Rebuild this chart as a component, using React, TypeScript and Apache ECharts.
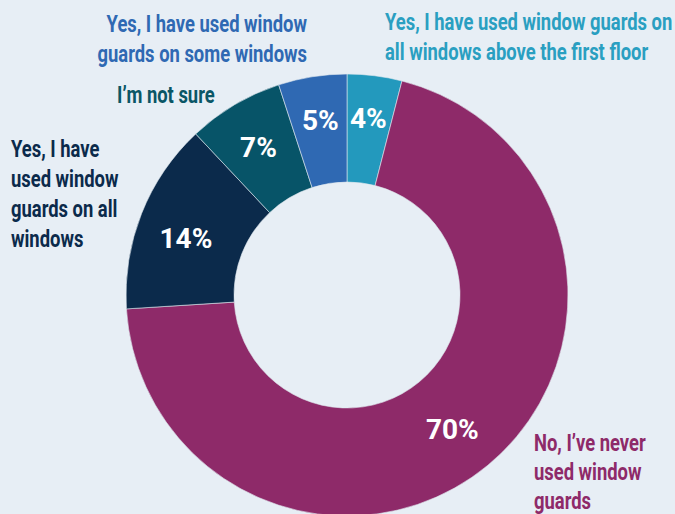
import React, { useEffect, useRef } from "react";
import * as echarts from "echarts";

const categories = [
  "Yes, I have used window guards on\nall windows above the first floor",
  "No, I\u2019ve never\nused window\nguards",
  "Yes, I have\nused window\nguards on all\nwindows",
  "I\u2019m not sure",
  "Yes, I have used window\nguards on some windows",
];
const values = [4, 70, 14, 7, 5];
const sliceColors = ["#2399bd", "#8e2a69", "#0b2a4b", "#075468", "#2f69b3"];
const labelColors = ["#2a9fc1", "#8e2a69", "#0b2a4b", "#0a5666", "#2f69b3"];

// layout of the outside category labels (positions, not data)
const outsideLayout = [
  { x: 385, y: 37, align: "left" },
  { x: 534, y: 472, align: "left" },
  { x: 11, y: 194, align: "left" },
  { x: 117, y: 95, align: "left" },
  { x: 307, y: 39, align: "right" },
];
const insideOffsets = [
  [0, -8],
  [-3, 4],
  [-3, 6],
  [-2, -1],
  [0, -7],
];

const FONT = "Roboto, 'Noto Sans', sans-serif";

export default function App() {
  const ref = useRef<HTMLDivElement>(null);
  useEffect(() => {
    document.body.style.margin = "0";
    const chart = echarts.init(ref.current!, null, { renderer: "svg" });
    const center = [347, 295];
    const radius = [113, 221];
    chart.setOption({
      animation: false,
      backgroundColor: "#e7eef5",
      graphic: categories.map((name, i) => ({
        type: "text",
        x: outsideLayout[i].x,
        y: outsideLayout[i].y,
        scaleX: 0.8,
        silent: true,
        style: {
          text: name,
          fill: labelColors[i],
          fontFamily: FONT,
          fontWeight: "bold",
          fontSize: 23,
          lineHeight: i === 1 ? 29 : 30,
          align: outsideLayout[i].align,
          verticalAlign: "middle",
        },
      })),
      series: [
        {
          type: "pie",
          center,
          radius,
          startAngle: 90,
          clockwise: true,
          silent: true,
          itemStyle: { borderColor: "#dfe7ef", borderWidth: 0.6 },
          label: {
            show: true,
            position: "inside",
            formatter: "{c}%",
            color: "#ffffff",
            fontFamily: FONT,
            fontWeight: "bold",
            fontSize: 28,
          },
          labelLine: { show: false },
          data: values.map((v, i) => ({
            value: v,
            name: categories[i],
            itemStyle: { color: sliceColors[i] },
            label: { offset: insideOffsets[i] },
          })),
        },
      ],
    });
    return () => chart.dispose();
  }, []);
  return <div ref={ref} style={{ width: 675, height: 514 }} />;
}
